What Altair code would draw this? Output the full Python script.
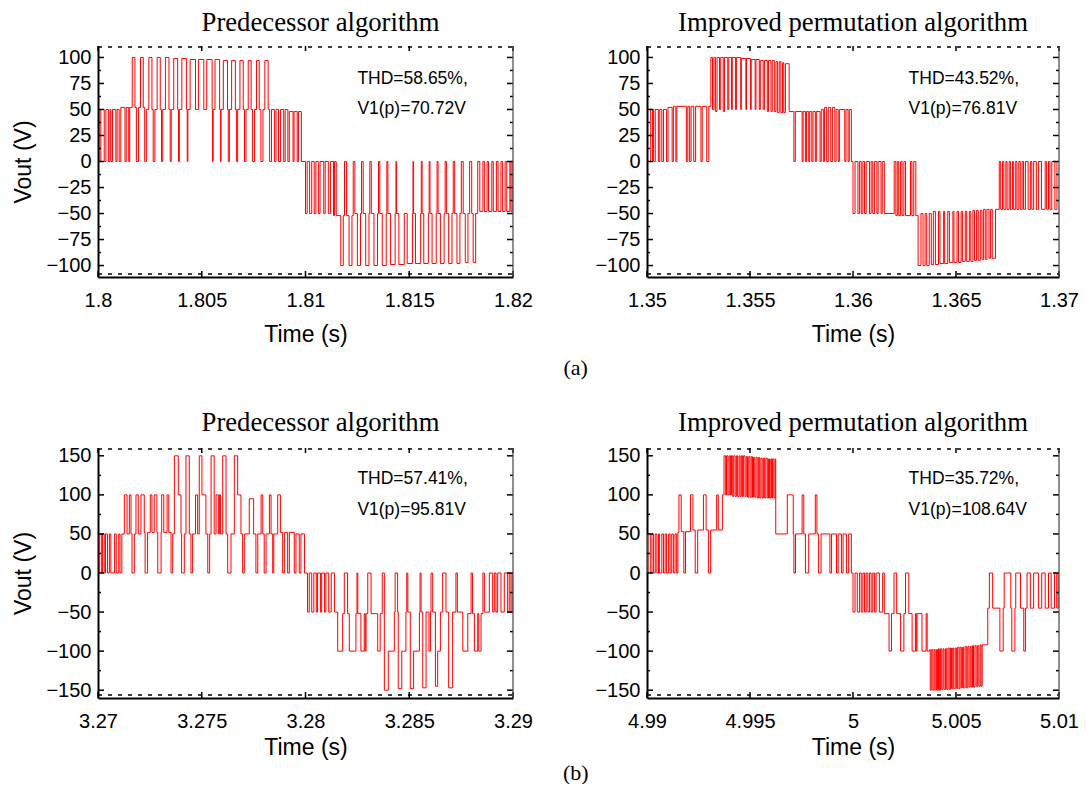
import altair as alt
import pandas as pd

# ---------------- data (time offsets in ms from panel start, voltage level) ----------------
A1_START = 1.8
A1_XTICKS = [1.8, 1.805, 1.81, 1.815, 1.82]
A1_WAVE = [
    (0.00, 50), (0.08, 0), (0.14, 50), (0.30, 0), (0.38, 50), (0.50, 0), (0.58, 50), (0.62, 0),
    (0.70, 50), (0.86, 0), (0.92, 50), (1.02, 0), (1.10, 52), (1.30, 0), (1.36, 52), (1.48, 0),
    (1.53, 52),
    (1.65, 100), (1.78, 52), (1.85, 0), (1.95, 52),
    (2.05, 100), (2.18, 52), (2.25, 0), (2.33, 50),
    (2.45, 100), (2.60, 50), (2.66, 0), (2.74, 50),
    (2.85, 100), (3.00, 50), (3.06, 0), (3.12, 50),
    (3.25, 100), (3.42, 50), (3.48, 0), (3.53, 50),
    (3.65, 99), (3.84, 50), (3.88, 0), (3.92, 50),
    (4.04, 99), (4.26, 50), (4.30, 0), (4.33, 50),
    (4.44, 98), (4.70, 50),
    (4.84, 98), (5.10, 50),
    (5.24, 98), (5.50, 50), (5.52, 0), (5.55, 50),
    (5.64, 98), (5.86, 50), (5.90, 0), (5.93, 50),
    (6.04, 97), (6.24, 50), (6.28, 0), (6.33, 50),
    (6.44, 97), (6.62, 50), (6.67, 0), (6.73, 50),
    (6.84, 97), (7.00, 50), (7.06, 0), (7.13, 50),
    (7.24, 97), (7.38, 50), (7.45, 0), (7.54, 50),
    (7.64, 97), (7.77, 50), (7.85, 0), (7.95, 50),
    (8.04, 97), (8.20, 50), (8.27, 0), (8.36, 50),
    (8.50, 0), (8.58, 50), (8.70, 0), (8.80, 50), (8.95, 0), (9.02, 50), (9.15, 0), (9.22, 48),
    (9.40, 0), (9.45, 48), (9.60, 0), (9.66, 48), (9.80, 0),
    (10.00, -50), (10.08, 0), (10.20, -50), (10.30, 0), (10.42, -50), (10.50, 0), (10.62, -50),
    (10.70, 0), (10.88, -50), (10.95, 0), (11.10, -50), (11.20, 0), (11.35, -52), (11.40, 0),
    (11.48, -52),
    (11.70, -100), (11.82, -52), (11.88, 0), (11.98, -52),
    (12.10, -100), (12.24, -52), (12.30, 0), (12.38, -50),
    (12.50, -100), (12.65, -50), (12.70, 0), (12.78, -50),
    (12.90, -100), (13.06, -50), (13.10, 0), (13.17, -50),
    (13.30, -100), (13.47, -50), (13.52, 0), (13.58, -50),
    (13.70, -100), (13.89, -50), (13.92, 0), (13.97, -50),
    (14.10, -99), (14.32, -50), (14.36, 0), (14.39, -50),
    (14.50, -99), (14.76, -50),
    (14.90, -98), (15.16, -50), (15.18, 0), (15.21, -50),
    (15.30, -98), (15.55, -50), (15.58, 0), (15.62, -50),
    (15.70, -98), (15.92, -50), (15.96, 0), (16.00, -50),
    (16.10, -98), (16.30, -50), (16.34, 0), (16.39, -50),
    (16.50, -98), (16.68, -50), (16.73, 0), (16.79, -50),
    (16.90, -98), (17.06, -50), (17.12, 0), (17.19, -50),
    (17.30, -98), (17.44, -50), (17.51, 0), (17.60, -50),
    (17.70, -97), (17.83, -50), (17.91, 0), (18.01, -50),
    (18.08, -97), (18.20, -50), (18.30, 0), (18.40, -48),
    (18.55, 0), (18.62, -48), (18.75, 0), (18.82, -48), (18.98, 0), (19.05, -48), (19.20, 0),
    (19.28, -48), (19.42, 0), (19.50, -48), (19.62, 0), (19.70, -48), (19.85, 0), (19.90, -48),
    (19.96, 0), (20.00, 0),
]

A2_START = 1.35
A2_XTICKS = [1.35, 1.355, 1.36, 1.365, 1.37]
A2_WAVE = [
    (0.00, 50), (0.18, 0), (0.27, 50), (0.32, 0), (0.40, 50), (0.55, 0), (0.62, 50), (0.72, 0),
    (0.80, 50), (0.95, 0), (1.02, 52), (1.22, 0), (1.28, 53), (1.40, 0), (1.45, 53), (1.91, 0),
    (1.98, 53), (2.07, 0), (2.14, 53), (2.27, 0), (2.36, 53), (2.62, 0), (2.68, 53), (2.90, 0),
    (3.00, 53),
    (3.10, 100), (3.18, 50), (3.25, 100), (3.32, 48), (3.40, 100), (3.52, 50), (3.58, 100),
    (3.70, 48), (3.76, 100), (3.92, 50), (3.97, 100), (4.10, 50), (4.14, 100), (4.30, 50),
    (4.34, 100), (4.55, 50), (4.58, 99), (4.80, 50), (4.83, 99), (5.02, 50), (5.06, 98),
    (5.25, 50), (5.29, 98), (5.45, 50), (5.50, 97), (5.64, 50), (5.70, 97), (5.84, 48),
    (5.90, 97), (6.02, 48), (6.08, 97), (6.18, 48), (6.26, 96), (6.34, 47), (6.42, 96),
    (6.50, 47), (6.58, 95), (6.64, 47), (6.72, 94), (6.90, 48),
    (7.13, 0), (7.20, 48), (7.53, 0), (7.58, 48), (7.69, 0), (7.74, 48), (7.85, 0), (7.90, 48),
    (8.00, 0), (8.06, 48), (8.17, 0), (8.22, 48), (8.40, 0), (8.46, 50), (8.56, 0), (8.62, 52),
    (8.72, 0), (8.80, 52), (8.92, 0), (9.00, 52), (9.12, 0), (9.18, 50), (9.28, 0), (9.34, 50),
    (9.60, 0), (9.66, 50), (9.76, 0), (9.82, 50), (9.92, 0),
    (10.00, -50), (10.10, 0), (10.24, -50), (10.32, 0), (10.40, -50), (10.48, 0), (10.56, -50),
    (10.64, 0), (10.80, -50), (10.88, 0), (10.96, -50), (11.04, 0), (11.16, -50), (11.22, 0),
    (11.36, -50), (11.42, 0), (11.52, -50), (12.00, 0), (12.08, -52), (12.15, 0), (12.22, -52),
    (12.31, 0), (12.38, -52), (12.47, 0), (12.55, -52), (12.79, 0), (12.86, -52), (12.95, 0),
    (13.05, -52),
    (13.16, -100), (13.30, -50), (13.40, -100), (13.50, -50), (13.58, -100), (13.70, -50),
    (13.80, -99), (13.90, -48), (14.00, -99), (14.15, -48), (14.22, -98), (14.40, -48),
    (14.45, -98), (14.60, -48), (14.68, -97), (14.85, -48), (14.90, -97), (15.05, -48),
    (15.12, -97), (15.25, -48), (15.32, -96), (15.45, -48), (15.52, -96), (15.65, -48),
    (15.72, -96), (15.82, -47), (15.90, -95), (16.00, -47), (16.08, -95), (16.18, -47),
    (16.26, -94), (16.34, -46), (16.42, -94), (16.50, -46), (16.60, -93), (16.68, -46),
    (16.76, -93), (16.92, -46),
    (17.10, 0), (17.17, -46), (17.26, 0), (17.32, -46), (17.42, 0), (17.48, -46), (17.58, 0),
    (17.64, -46), (17.74, 0), (17.80, -46), (17.90, 0), (17.96, -46), (18.05, 0), (18.12, -46),
    (18.21, 0), (18.28, -46), (18.37, 0), (18.50, -46), (18.61, 0), (18.68, -46), (18.77, 0),
    (18.90, -46), (19.00, 0), (19.15, -46), (19.33, 0), (19.40, -46), (19.49, 0), (19.56, -46),
    (19.65, 0), (19.80, -46), (19.90, 0), (20.00, 0),
]

B1_START = 3.27
B1_XTICKS = [3.27, 3.275, 3.28, 3.285, 3.29]
B1_WAVE = [
    (0.00, 0), (0.06, 50), (0.16, 0), (0.22, 50), (0.30, 0), (0.36, 50), (0.46, 0), (0.55, 50),
    (0.62, 0), (0.80, 50), (0.88, 0), (1.00, 50), (1.06, 0), (1.15, 50),
    (1.27, 100), (1.40, 50), (1.51, 100), (1.59, 50), (1.64, 0), (1.75, 50), (1.83, 100),
    (1.94, 50), (2.07, 100), (2.23, 52), (2.27, 0), (2.39, 52), (2.52, 100), (2.60, 52),
    (2.71, 100), (2.84, 52), (2.88, 0), (3.04, 52), (3.07, 100), (3.17, 52), (3.33, 100),
    (3.41, 52), (3.52, 0), (3.60, 50),
    (3.68, 150), (3.87, 100), (4.00, 50), (4.03, 0), (4.16, 50), (4.24, 150), (4.40, 50),
    (4.48, 0), (4.56, 50), (4.70, 100), (4.80, 50), (4.88, 150), (5.01, 100), (5.20, 50),
    (5.29, 0), (5.38, 50), (5.45, 150), (5.60, 50), (5.69, 100), (5.80, 50), (5.85, 100),
    (5.90, 50), (6.01, 150), (6.17, 50), (6.25, 0), (6.41, 50), (6.57, 150), (6.73, 100),
    (6.89, 50), (6.97, 0), (7.05, 50),
    (7.29, 95), (7.50, 50), (7.61, 0), (7.70, 50), (7.86, 100), (7.94, 50), (8.01, 0),
    (8.10, 50), (8.26, 100), (8.34, 50), (8.42, 0), (8.47, 50), (8.66, 100), (8.79, 52),
    (8.90, 0), (8.98, 52), (9.14, 0), (9.22, 52), (9.46, 0), (9.54, 50), (9.70, 0), (9.78, 50),
    (9.95, 0),
    (10.10, -50), (10.18, 0), (10.30, -50), (10.40, 0), (10.52, -50), (10.58, 0), (10.72, -50),
    (10.78, 0), (10.92, -50), (10.98, 0), (11.12, -50), (11.24, 0), (11.40, -50),
    (11.55, -100), (11.79, -52), (11.87, 0), (12.03, -52), (12.11, -100), (12.43, -52),
    (12.48, 0), (12.52, -52), (12.67, -100), (12.83, -52), (12.88, -100), (12.92, -52),
    (13.00, 0), (13.16, -52), (13.48, -100), (13.60, -52), (13.70, 0),
    (13.80, -150), (13.99, -100), (14.28, -50), (14.32, 0), (14.44, -50), (14.47, -148),
    (14.64, -100), (14.84, -50), (14.88, 0), (14.93, -50), (15.05, -148), (15.21, -100),
    (15.49, -50), (15.52, 0), (15.57, -50), (15.65, -147), (15.81, -50), (15.95, -100),
    (16.02, -50), (16.05, 0), (16.13, -50), (16.26, -145), (16.37, -100), (16.50, -50),
    (16.61, 0), (16.77, -50), (16.90, -147), (17.09, -50), (17.25, 0), (17.32, -50),
    (17.58, -100), (17.82, -52), (17.98, 0), (18.05, -52), (18.14, -100), (18.30, -52),
    (18.35, -100), (18.46, -52), (18.55, 0), (18.62, -50), (18.86, 0), (19.02, -50),
    (19.10, 0), (19.18, -50), (19.26, 0), (19.42, -50), (19.58, 0), (19.74, -50), (19.82, 0),
    (19.90, -50), (19.96, 0), (20.00, 0),
]

B2_START = 4.99
B2_XTICKS = [4.99, 4.995, 5.0, 5.005, 5.01]
B2_WAVE = [
    (0.00, 0), (0.03, 50), (0.16, 0), (0.24, 50), (0.32, 0), (0.40, 50), (0.48, 0), (0.56, 50),
    (0.60, 0), (0.72, 50), (0.80, 0), (0.88, 50), (0.95, 0), (1.05, 50), (1.12, 0), (1.20, 50),
    (1.28, 0), (1.36, 50), (1.44, 0), (1.50, 52),
    (1.55, 100), (1.66, 53), (1.79, 0), (1.87, 53), (2.11, 100), (2.23, 55), (2.34, 0),
    (2.46, 55), (2.74, 100), (2.87, 55), (2.98, 0), (3.09, 55), (3.38, 100), (3.46, 55),
    (3.66, 100),
    (3.74, 150), (3.82, 100), (3.86, 150), (3.93, 100), (3.99, 150), (4.05, 100), (4.10, 150),
    (4.16, 98), (4.21, 150), (4.28, 98), (4.34, 150), (4.40, 98), (4.47, 150), (4.52, 98),
    (4.58, 150), (4.64, 98), (4.69, 150), (4.76, 98), (4.82, 149), (4.88, 97), (4.94, 149),
    (5.00, 97), (5.06, 149), (5.12, 97), (5.17, 148), (5.23, 97), (5.29, 148), (5.35, 96),
    (5.42, 148), (5.47, 96), (5.53, 147), (5.59, 96), (5.65, 147), (5.71, 96), (5.77, 147),
    (5.84, 96), (5.90, 146), (5.95, 96), (6.01, 146), (6.05, 96), (6.09, 146), (6.16, 96),
    (6.22, 146), (6.25, 50),
    (6.81, 100), (7.10, 50), (7.13, 0), (7.21, 50), (7.53, 100), (7.61, 50), (7.69, 0),
    (7.85, 50), (8.17, 100), (8.25, 50), (8.33, 0), (8.45, 50), (8.88, 0), (8.96, 50),
    (9.20, 0), (9.28, 50), (9.44, 0), (9.52, 50), (9.68, 0), (9.79, 50), (9.92, 0),
    (10.00, -50), (10.10, 0), (10.21, -50), (10.32, 0), (10.40, -50), (10.48, 0), (10.56, -50),
    (10.64, 0), (10.72, -50), (10.80, 0), (10.88, -50), (10.96, 0), (11.04, -50), (11.12, 0),
    (11.28, -50),
    (11.44, 0), (11.52, -52), (11.75, -100), (11.87, -52), (11.99, 0), (12.12, -52),
    (12.31, -100), (12.47, -52), (12.55, 0), (12.71, -52), (12.87, -100), (13.03, -52),
    (13.07, -100), (13.11, -52), (13.35, -100), (13.55, -52), (13.60, -100), (13.72, -98),
    (13.75, -150), (13.82, -98), (13.88, -150), (13.94, -98), (13.99, -150), (14.05, -98),
    (14.10, -150), (14.15, -97), (14.19, -150), (14.25, -97), (14.31, -149), (14.37, -97),
    (14.42, -149), (14.49, -97), (14.55, -149), (14.61, -96), (14.67, -149), (14.73, -96),
    (14.78, -148), (14.84, -96), (14.89, -148), (14.96, -96), (15.02, -148), (15.08, -95),
    (15.15, -148), (15.20, -95), (15.26, -147), (15.32, -95), (15.37, -147), (15.44, -94),
    (15.50, -147), (15.57, -94), (15.63, -146), (15.69, -94), (15.74, -146), (15.80, -93),
    (15.85, -146), (15.92, -93), (15.98, -145), (16.05, -93), (16.11, -145), (16.17, -92),
    (16.22, -145), (16.27, -92),
    (16.54, -45), (16.62, 0), (16.78, -45), (17.13, -100), (17.29, -45), (17.34, 0),
    (17.66, -45), (17.71, -100), (17.86, -45), (17.90, 0), (18.13, -45), (18.29, -100),
    (18.37, -45), (18.45, 0), (18.61, -45), (18.77, 0), (19.00, -45), (19.16, 0), (19.33, -45),
    (19.49, 0), (19.62, -45), (19.78, 0), (19.89, -45), (19.95, 0), (20.00, 0),
]

A_YTICKS = [-100, -75, -50, -25, 0, 25, 50, 75, 100]
A_YMINOR = [-87.5, -62.5, -37.5, -12.5, 12.5, 37.5, 62.5, 87.5]
A_YDOMAIN = [-111, 111]
B_YTICKS = [-150, -100, -50, 0, 50, 100, 150]
B_YMINOR = [-125, -75, -25, 25, 75, 125]
B_YDOMAIN = [-160, 160]

TITLES = ["Predecessor algorithm", "Improved permutation algorithm"]
NOTES = {
    "A1": ["THD=58.65%,", "V1(p)=70.72V"],
    "A2": ["THD=43.52%,", "V1(p)=76.81V"],
    "B1": ["THD=57.41%,", "V1(p)=95.81V"],
    "B2": ["THD=35.72%,", "V1(p)=108.64V"],
}
A_NOTE_Y = [79, 50]
B_NOTE_Y = [120, 81]
NOTE_X_MS = [12.5, 12.7]

W1 = 415
W2 = 412
HA = 231
HB = 250


def panel(wave, start, xticks, ydom, yticks, yminor, title, notes, note_y, note_x_ms, W, H,
          ytitle, x_title_pad, title_dx):
    df = pd.DataFrame({"t": [start + a / 1000.0 for a, _ in wave], "v": [b for _, b in wave]})
    xs = alt.Scale(domain=[xticks[0], xticks[-1]], nice=False, zero=False)
    ys = alt.Scale(domain=ydom, nice=False, zero=False)
    yaxis_kw = dict(values=yticks, format="d", labelFlush=False, labelOverlap=False,
                    grid=False, ticks=False, labelPadding=7, titlePadding=10)
    yaxis_kw["title"] = "Vout (V)" if ytitle else None
    xax = alt.Axis(values=xticks, format="~g", title="Time (s)", labelFlush=False,
                   labelOverlap=False, grid=False, ticks=False, labelPadding=13,
                   titlePadding=x_title_pad)
    yax = alt.Axis(**yaxis_kw)
    X = lambda: alt.X("t:Q", scale=xs, axis=xax)
    Y = lambda: alt.Y("v:Q", scale=ys, axis=yax)

    line = alt.Chart(df).mark_line(interpolate="step-after", color="#ff0000",
                                   strokeWidth=1).encode(x=X(), y=Y())
    ndf = pd.DataFrame({"t": [start + note_x_ms / 1000.0] * 2, "v": note_y, "label": notes})
    text = alt.Chart(ndf).mark_text(align="left", baseline="middle", font="Liberation Sans",
                                    fontSize=17.5, color="black").encode(x=X(), y=Y(), text="label:N")
    ymaj = pd.DataFrame({"v": yticks})
    ymin = pd.DataFrame({"v": yminor})
    xmaj = pd.DataFrame({"t": xticks})
    one = pd.DataFrame({"k": [0]})
    lt = alt.Chart(ymaj).mark_rule(color="black", strokeWidth=1.5).encode(
        y=Y(), x=alt.value(0), x2=alt.value(6))
    ltm = alt.Chart(ymin).mark_rule(color="black", strokeWidth=1.5).encode(
        y=Y(), x=alt.value(0), x2=alt.value(3))
    rt = alt.Chart(ymaj).mark_rule(color="black", strokeWidth=1.5).encode(
        y=Y(), x=alt.value(W - 6), x2=alt.value(W))
    rtm = alt.Chart(ymin).mark_rule(color="black", strokeWidth=1.5).encode(
        y=Y(), x=alt.value(W - 3), x2=alt.value(W))
    bt = alt.Chart(xmaj).mark_rule(color="black", strokeWidth=1.5).encode(
        x=X(), y=alt.value(H), y2=alt.value(H - 6))
    tt = alt.Chart(xmaj).mark_rule(color="black", strokeWidth=1.5).encode(
        x=X(), y=alt.value(0), y2=alt.value(5))
    bd = alt.Chart(one).mark_rule(color="black", strokeWidth=1.5, strokeDash=[4, 6]).encode(
        x=alt.value(0), x2=alt.value(W), y=alt.value(H - 3))
    td = alt.Chart(one).mark_rule(color="black", strokeWidth=1.5, strokeDash=[4, 6]).encode(
        x=alt.value(0), x2=alt.value(W), y=alt.value(1))
    re = alt.Chart(one).mark_rule(color="#444444", strokeWidth=1.2).encode(
        x=alt.value(W), y=alt.value(0), y2=alt.value(H))
    return alt.layer(line, text, lt, ltm, rt, rtm, bt, tt, bd, td, re).properties(
        width=W, height=H,
        title=alt.TitleParams(title, font="Liberation Serif", fontSize=26.7, fontWeight="normal",
                              color="black", offset=9, dx=title_dx),
    )


p1 = panel(A1_WAVE, A1_START, A1_XTICKS, A_YDOMAIN, A_YTICKS, A_YMINOR, TITLES[0], NOTES["A1"],
           A_NOTE_Y, NOTE_X_MS[0], W1, HA, True, 13, 15)
p2 = panel(A2_WAVE, A2_START, A2_XTICKS, A_YDOMAIN, A_YTICKS, A_YMINOR, TITLES[1], NOTES["A2"],
           A_NOTE_Y, NOTE_X_MS[1], W2, HA, False, 13, 0)
p3 = panel(B1_WAVE, B1_START, B1_XTICKS, B_YDOMAIN, B_YTICKS, B_YMINOR, TITLES[0], NOTES["B1"],
           B_NOTE_Y, NOTE_X_MS[0], W1, HB, True, 5, 15)
p4 = panel(B2_WAVE, B2_START, B2_XTICKS, B_YDOMAIN, B_YTICKS, B_YMINOR, TITLES[1], NOTES["B2"],
           B_NOTE_Y, NOTE_X_MS[1], W2, HB, False, 5, 0)

row_title = dict(orient="bottom", anchor="middle", font="Liberation Serif", fontSize=22,
                 fontWeight="normal", color="black", dx=30)
row_a = alt.hconcat(p1, p2, spacing=61, title=alt.TitleParams("(a)", offset=12, **row_title))
row_b = alt.hconcat(p3, p4, spacing=61, title=alt.TitleParams("(b)", offset=4, **row_title))

chart = alt.vconcat(row_a, row_b, spacing=31).configure_view(stroke=None).configure_axis(
    domainColor="black", domainWidth=2, labelFont="Liberation Sans", labelFontSize=20,
    labelColor="black", titleFont="Liberation Sans", titleFontSize=23, titleFontWeight="normal",
    titleColor="black",
).properties(padding={"left": 4, "top": 1, "right": 0, "bottom": 0})

chart.save("out.html", embed_options={"renderer": "svg", "actions": False})
